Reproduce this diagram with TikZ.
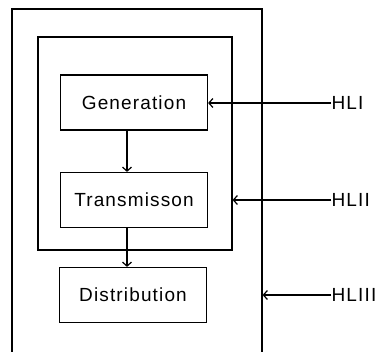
\documentclass[tikz,border=0pt]{standalone}
\usepackage{fontspec}
\setmainfont{Liberation Sans}[LetterSpace=6]
\usetikzlibrary{arrows.meta}

\begin{document}
\begin{tikzpicture}[x=1pt,y=-1pt,line width=1.2pt,
		blk/.style={draw,minimum width=147pt,minimum height=55pt,inner sep=0pt,font=\fontsize{19}{22}\selectfont},
		lbl/.style={anchor=west,inner sep=0pt,font=\fontsize{19}{22}\selectfont},
		barb/.style={-{Straight Barb[length=4pt,width=9pt]}}]
			\useasboundingbox (0,0) rectangle (375,352);
			\clip (0,0) rectangle (375,352);
			% levels
			\node[draw,minimum width=250pt,minimum height=380pt,inner sep=0pt] (outer) at (137,199) {};
			\node[draw,minimum width=194pt,minimum height=213pt,inner sep=0pt] (inner) at (135,143.5) {};
			\node[blk] (gen) at (134,102.5) {Generation};
			\node[blk] (trans) at (134,200) {Transmisson};
			\node[blk] (dist) at (133,295) {Distribution};
			\draw[barb] ([xshift=-7pt]gen.south) -- ([xshift=-7pt]trans.north);
			\draw[barb] ([xshift=-7pt]trans.south) -- ([xshift=-6pt]dist.north);
			% labels
			\node[lbl] (hl1) at (331,103) {HLI};
			\node[lbl] (hl2) at (331,200) {HLII};
			\node[lbl] (hl3) at (331,295) {HLIII};
			\draw[barb] (hl1.west) -- (hl1.west -| gen.east);
			\draw[barb] (hl2.west) -- (hl2.west -| inner.east);
			\draw[barb] (hl3.west) -- (hl3.west -| outer.east);
		\end{tikzpicture}
\end{document}
